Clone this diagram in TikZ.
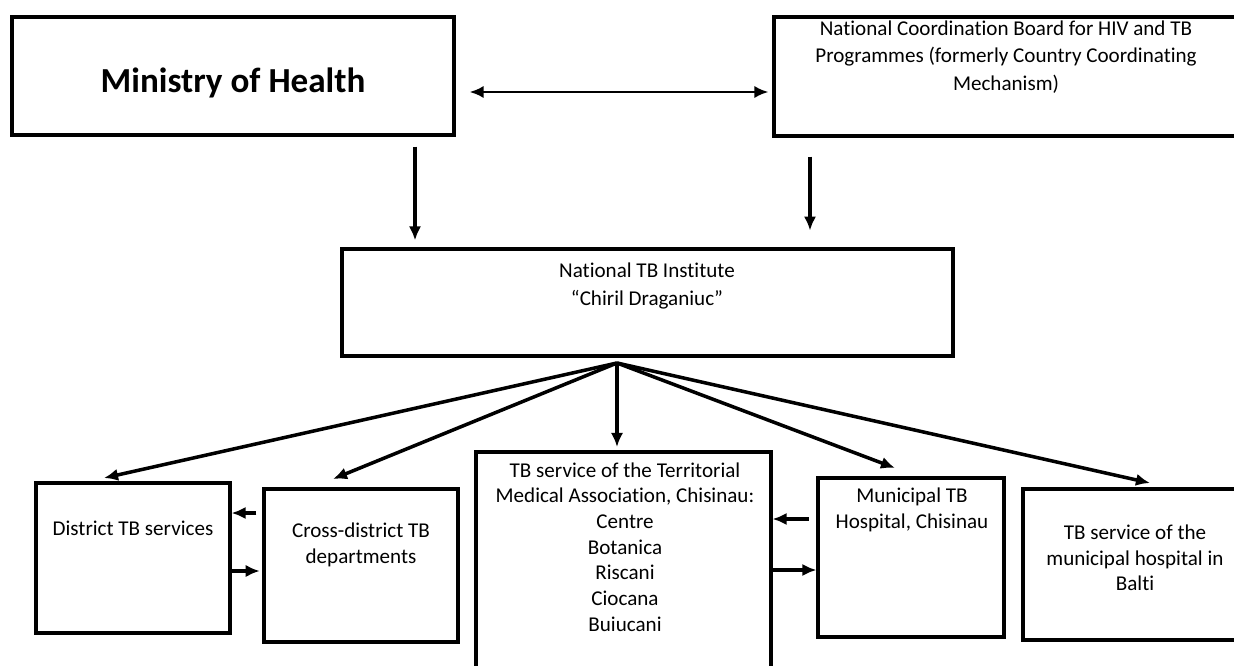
\documentclass[tikz,border=0pt]{standalone}
\usepackage{fontspec}
\setmainfont[Ligatures={NoCommon,NoContextual}, Contextuals={NoAlternate}]{Carlito}
\usetikzlibrary{arrows.meta}
\tikzset{%
    box/.style={draw, line width=1.8pt, inner sep=0pt},
    txt/.style={align=center, font=\fontsize{12}{14.6}\selectfont},
    arr/.style={line width=2pt, -{Latex[length=8pt,width=7pt]}}
}

\begin{document}
\begin{tikzpicture}[x=0.02cm, y=-0.02cm]
            \clip (0,0) rectangle (1234,666);

            % top boxes
            \node[box, minimum width=8.84cm, minimum height=2.36cm] (moh) at (233,76){};
            \node[box, minimum width=9.26cm, minimum height=2.38cm] (ncb) at (1005.5,76.5){};
            \node[font=\fontsize{20}{23}\bfseries] (mohtxt) at (233,83){Ministry of Health};
            \node[txt, font=\fontsize{12}{15.6}\selectfont] (ncbtxt) at (1006,57){National Coordination Board for HIV and TB\\
                Programmes (formerly Country Coordinating\\ Mechanism)};

            % institute
            \node[box, minimum width=12.22cm, minimum height=2.14cm] (nti) at (647.5,302.5){};
            \node[txt, font=\fontsize{12}{15.6}\selectfont] (ntitxt) at (647,286){National TB Institute\\ ``Chiril Draganiuc''};

            % bottom boxes
            \node[box, minimum width=3.88cm, minimum height=3cm] (dist) at (133,558){};
            \node[box, minimum width=3.88cm, minimum height=3.06cm] (cross) at (361,565.5){};
            \node[box, minimum width=5.9cm, minimum height=4.96cm] (tma) at (623.5,576){};
            \node[box, minimum width=3.72cm, minimum height=3.18cm] (mun) at (911,557.5){};
            \node[box, minimum width=4.48cm, minimum height=3.02cm] (balti) at (1135,564.5){};

            \node[txt] (disttxt) at (133,528){District TB services};
            \node[txt] (crosstxt) at (361,545){Cross-district TB\\ departments};
            \node[txt] (tmatxt) at (625,547){TB service of the Territorial\\ Medical Association, Chisinau:\\
                Centre\\ Botanica\\ Riscani\\ Ciocana\\ Buiucani};
            \node[txt] (muntxt) at (912,510){Municipal TB\\ Hospital, Chisinau};
            \node[txt] (baltitxt) at (1135,558){TB service of the\\ municipal hospital in\\ Balti};

            % helper points
            \coordinate (lvTop) at (0,92);
            \coordinate (dnA) at (415,0);
            \coordinate (dnB) at (810,0);
            \coordinate (apex) at (617,363);
            \coordinate (dtip) at (104,478);
            \coordinate (ctip) at (333,479);
            \coordinate (ttip) at (617,447);
            \coordinate (mtip) at (895,468);
            \coordinate (btip) at (1150,483);
            \coordinate (lvA) at (0,513);
            \coordinate (lvB) at (0,571);
            \coordinate (lvC) at (0,519);
            \coordinate (lvD) at (0,570);

            % top arrows
            \draw[line width=1.5pt, {Latex[length=8pt,width=7pt]}-{Latex[length=8pt,width=7pt]},
                shorten <=8pt, shorten >=2.3pt] (moh.east |- lvTop) -- (ncb.west |- lvTop);
            \draw[arr, shorten <=5.7pt, shorten >=4pt] (moh.south -| dnA) -- (nti.north -| dnA);
            \draw[arr, line width=2.6pt, shorten <=10.8pt, shorten >=9.6pt] (ncb.south -| dnB) -- (nti.north -| dnB);

            % fan out of the institute
            \draw[arr] (apex) -- (dtip);
            \draw[arr] (apex) -- (ctip);
            \draw[arr] (apex) -- (ttip);
            \draw[arr] (apex) -- (mtip);
            \draw[arr] (apex) -- (btip);

            % side links
            \draw[arr, shorten <=3.4pt] (cross.west |- lvA) -- (dist.east |- lvA);
            \draw[arr, shorten >=1.5pt] (dist.east |- lvB) -- (cross.west |- lvB);
            \draw[arr, line width=2.6pt, shorten <=4.5pt] (mun.west |- lvC) -- (tma.east |- lvC);
            \draw[arr] (tma.east |- lvD) -- (mun.west |- lvD);
\end{tikzpicture}
\end{document}
